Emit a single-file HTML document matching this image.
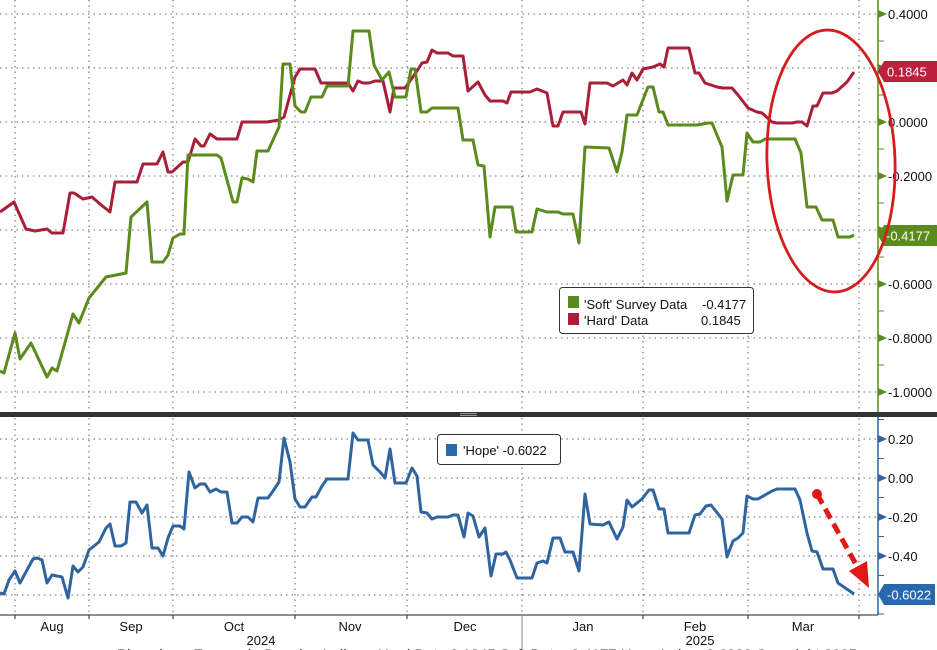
<!DOCTYPE html>
<html>
<head>
<meta charset="utf-8">
<style>
  html,body{margin:0;padding:0;background:#fff;}
  svg{display:block;}
  text{font-family:"Liberation Sans",Arial,sans-serif;}
</style>
</head>
<body>
<svg width="937" height="650" viewBox="0 0 937 650" xmlns="http://www.w3.org/2000/svg">
  <rect x="0" y="0" width="937" height="650" fill="#fff"/>

  <!-- TOP PANEL GRID -->
  <g stroke="#666" stroke-width="1" stroke-dasharray="1.5,4" fill="none">
    <line x1="0" y1="14" x2="878" y2="14"/>
    <line x1="0" y1="68" x2="878" y2="68"/>
    <line x1="0" y1="122" x2="878" y2="122"/>
    <line x1="0" y1="176" x2="878" y2="176"/>
    <line x1="0" y1="230" x2="878" y2="230"/>
    <line x1="0" y1="284" x2="878" y2="284"/>
    <line x1="0" y1="338" x2="878" y2="338"/>
    <line x1="0" y1="392" x2="878" y2="392"/>
    <line x1="15" y1="0" x2="15" y2="412"/>
    <line x1="89" y1="0" x2="89" y2="412"/>
    <line x1="173" y1="0" x2="173" y2="412"/>
    <line x1="295" y1="0" x2="295" y2="412"/>
    <line x1="407" y1="0" x2="407" y2="412"/>
    <line x1="522" y1="0" x2="522" y2="412"/>
    <line x1="643" y1="0" x2="643" y2="412"/>
    <line x1="748" y1="0" x2="748" y2="412"/>
    <line x1="859" y1="0" x2="859" y2="412"/>
  </g>

  <!-- BOTTOM PANEL GRID -->
  <g stroke="#666" stroke-width="1" stroke-dasharray="1.5,4" fill="none">
    <line x1="0" y1="439" x2="878" y2="439"/>
    <line x1="0" y1="478" x2="878" y2="478"/>
    <line x1="0" y1="517" x2="878" y2="517"/>
    <line x1="0" y1="556" x2="878" y2="556"/>
    <line x1="0" y1="595" x2="878" y2="595"/>
    <line x1="15" y1="418" x2="15" y2="615"/>
    <line x1="89" y1="418" x2="89" y2="615"/>
    <line x1="173" y1="418" x2="173" y2="615"/>
    <line x1="295" y1="418" x2="295" y2="615"/>
    <line x1="407" y1="418" x2="407" y2="615"/>
    <line x1="522" y1="418" x2="522" y2="615"/>
    <line x1="643" y1="418" x2="643" y2="615"/>
    <line x1="748" y1="418" x2="748" y2="615"/>
    <line x1="859" y1="418" x2="859" y2="615"/>
  </g>

  <!-- SERIES TOP -->
  <polyline fill="none" stroke="#a91f3a" stroke-width="3" stroke-linejoin="round" points="0,212 14,202 26,229 35,231 47,229 52,233 63,233 70,193 74,193 83,199 92,197 100,204 110,212 115,182 137,182 143,164 157,164 163,152 168,172 172,172 183,162 188,162 195,139 201,146 204,146 210,134 217,139 237,139 242,122 267,122 279,120 284,117 295,77 300,69 315,69 321,83 348,83 353,91 358,81 363,83 369,83 375,81 383,81 390,112 394,88 405,88 417,71 422,63 427,62 432,50 437,53 448,53 453,56 463,56 468,91 478,82 485,95 490,101 503,101 507,103 511,92 530,92 537,89 547,93 553,126 558,126 563,112 581,112 585,124 590,83 607,83 613,86 623,80 627,85 632,73 637,80 643,69 653,67 660,64 664,67 668,48 689,48 695,73 699,73 705,83 717,87 723,88 732,88 738,95 748,108 757,112 762,113 772,122 777,123 792,123 797,122 802,122 807,126 813,106 817,106 823,93 832,93 837,91 847,82 854,72"/>
  <polyline fill="none" stroke="#5b8b1c" stroke-width="3" stroke-linejoin="round" points="0,371 4,373 15,333 20,359 31,343 47,377 52,368 57,371 73,314 79,323 89,298 106,277 126,273 131,217 147,202 152,262 163,262 168,255 173,238 180,234 184,234 188,155 217,155 221,158 233,202 237,202 242,178 248,179 253,182 257,151 268,151 279,127 283,64 290,64 295,106 301,112 305,112 311,97 322,97 327,86 348,86 353,31 369,31 374,65 382,80 389,72 395,97 406,97 411,69 415,69 421,112 427,112 432,108 458,108 463,140 473,140 478,165 484,166 490,237 495,207 512,207 516,232 532,232 537,209 547,212 558,212 563,214 573,214 579,243 585,147 609,148 617,172 622,152 627,115 637,115 648,87 653,87 659,112 663,112 668,125 697,125 708,123 712,123 722,147 727,201 733,175 743,175 747,133 753,142 760,142 765,139 795,139 801,153 807,207 816,207 822,220 833,220 838,237 850,237 854,235"/>

  <!-- SERIES BOTTOM -->
  <polyline fill="none" stroke="#2f649e" stroke-width="3" stroke-linejoin="round" points="0,593 4,594 9,580 15,571 20,583 27,570 33,559 37,558 42,560 47,583 52,575 62,577 68,598 73,566 78,572 83,567 89,550 99,542 106,528 110,524 115,546 121,546 126,543 130,502 136,502 142,513 147,505 152,548 158,548 163,556 168,538 173,526 180,526 184,529 189,472 195,488 200,484 205,484 210,492 216,489 221,492 227,492 232,523 237,523 242,517 248,517 253,522 258,498 268,498 273,491 279,482 284,438 290,462 295,499 300,507 305,507 312,497 316,497 322,486 327,479 348,479 353,433 358,440 368,440 373,465 380,472 385,478 390,449 395,483 406,483 412,468 417,476 421,512 427,513 432,519 437,517 448,517 453,515 458,515 464,537 468,513 473,516 479,537 485,528 491,576 496,554 503,554 506,552 510,560 517,578 532,578 537,563 543,561 547,563 553,538 560,538 565,552 573,552 579,571 585,494 590,524 603,525 609,522 617,539 623,527 627,500 632,507 642,499 649,490 653,490 659,509 664,509 668,533 689,533 695,515 700,514 706,506 711,505 722,519 727,557 733,541 738,538 743,533 747,496 753,499 758,499 772,491 777,489 795,489 800,500 807,533 812,551 817,552 823,569 833,569 838,583 854,594"/>

  <!-- DIVIDER -->
  <rect x="0" y="412" width="937" height="5" fill="#333"/>
  <line x1="460" y1="413.5" x2="477" y2="413.5" stroke="#999" stroke-width="1"/>
  <line x1="460" y1="415.5" x2="477" y2="415.5" stroke="#999" stroke-width="1"/>

  <!-- TOP AXIS -->
  <line x1="878" y1="0" x2="878" y2="412" stroke="#5b8b1c" stroke-width="1.5"/>
  <g fill="#5b8b1c">
    <polygon points="878,10 887,14 878,18"/>
    <polygon points="878,64 887,68 878,72"/>
    <polygon points="878,118 887,122 878,126"/>
    <polygon points="878,172 887,176 878,180"/>
    <polygon points="878,226 887,230 878,234"/>
    <polygon points="878,280 887,284 878,288"/>
    <polygon points="878,334 887,338 878,342"/>
    <polygon points="878,388 887,392 878,396"/>
  </g>
  <g stroke="#5b8b1c" stroke-width="1">
    <line x1="878" y1="41" x2="884" y2="41"/>
    <line x1="878" y1="95" x2="884" y2="95"/>
    <line x1="878" y1="149" x2="884" y2="149"/>
    <line x1="878" y1="203" x2="884" y2="203"/>
    <line x1="878" y1="257" x2="884" y2="257"/>
    <line x1="878" y1="311" x2="884" y2="311"/>
    <line x1="878" y1="365" x2="884" y2="365"/>
  </g>
  <g font-size="13" fill="#111">
    <text x="888" y="19">0.4000</text>
    <text x="888" y="127">0.0000</text>
    <text x="888" y="181">-0.2000</text>
    <text x="888" y="289">-0.6000</text>
    <text x="888" y="343">-0.8000</text>
    <text x="888" y="397">-1.0000</text>
  </g>
  <!-- value tags top -->
  <polygon points="878,71.5 884,61 937,61 937,82 884,82" fill="#bd1f3c"/>
  <text x="887" y="76.5" font-size="13" fill="#fff">0.1845</text>
  <polygon points="878,235.5 884,225 937,225 937,246 884,246" fill="#5b8b1c"/>

  <!-- BOTTOM AXIS -->
  <line x1="878" y1="417" x2="878" y2="615" stroke="#2f649e" stroke-width="1.5"/>
  <g fill="#2f649e">
    <polygon points="878,435 887,439 878,443"/>
    <polygon points="878,474 887,478 878,482"/>
    <polygon points="878,513 887,517 878,521"/>
    <polygon points="878,552 887,556 878,560"/>
  </g>
  <g stroke="#2f649e" stroke-width="1">
    <line x1="878" y1="419.5" x2="884" y2="419.5"/>
    <line x1="878" y1="458.5" x2="884" y2="458.5"/>
    <line x1="878" y1="497.5" x2="884" y2="497.5"/>
    <line x1="878" y1="536.5" x2="884" y2="536.5"/>
    <line x1="878" y1="575.5" x2="884" y2="575.5"/>
    <line x1="878" y1="614" x2="884" y2="614"/>
  </g>
  <g font-size="13" fill="#111">
    <text x="888" y="444">0.20</text>
    <text x="888" y="483">0.00</text>
    <text x="888" y="522">-0.20</text>
    <text x="888" y="561">-0.40</text>
  </g>
  <polygon points="878,594.5 884,584 935,584 935,605 884,605" fill="#2a68ad"/>
  <text x="887" y="599.5" font-size="13" fill="#fff">-0.6022</text>

  <!-- X AXIS -->
  <line x1="0" y1="615" x2="878" y2="615" stroke="#222" stroke-width="1"/>
  <g stroke="#222" stroke-width="1">
    <line x1="15" y1="615" x2="15" y2="619"/>
    <line x1="89" y1="615" x2="89" y2="619"/>
    <line x1="173" y1="615" x2="173" y2="619"/>
    <line x1="295" y1="615" x2="295" y2="619"/>
    <line x1="407" y1="615" x2="407" y2="619"/>
    <line x1="522" y1="615" x2="522" y2="650" stroke="#888"/>
    <line x1="643" y1="615" x2="643" y2="619"/>
    <line x1="748" y1="615" x2="748" y2="619"/>
    <line x1="859" y1="615" x2="859" y2="619"/>
  </g>
  <g font-size="13" fill="#111" text-anchor="middle">
    <text x="52" y="631">Aug</text>
    <text x="131" y="631">Sep</text>
    <text x="234" y="631">Oct</text>
    <text x="350" y="631">Nov</text>
    <text x="465" y="631">Dec</text>
    <text x="583" y="631">Jan</text>
    <text x="695" y="631">Feb</text>
    <text x="803" y="631">Mar</text>
    <text x="261" y="645">2024</text>
    <text x="700" y="645">2025</text>
  </g>
  <text x="117" y="657" font-size="11" fill="#222" textLength="740" lengthAdjust="spacingAndGlyphs">Bloomberg Economic Surprise Indices: Hard Data 0.1845 Soft Data -0.4177 Hope Index -0.6022 Copyright 2025</text>

  <!-- LEGENDS -->
  <rect x="559.5" y="287.5" width="194" height="46" rx="3" fill="#fff" stroke="#333" stroke-width="1"/>
  <rect x="568" y="296" width="11" height="12" fill="#5b8b1c"/>
  <rect x="568" y="313" width="11" height="12" fill="#a91f3a"/>
  <g font-size="13" fill="#111">
    <text x="584" y="309">'Soft' Survey Data</text>
    <text x="702" y="309">-0.4177</text>
    <text x="584" y="325">'Hard' Data</text>
    <text x="701" y="325">0.1845</text>
  </g>
  <rect x="437.5" y="434.5" width="123" height="30" rx="3" fill="#fff" stroke="#333" stroke-width="1"/>
  <rect x="446" y="444" width="11" height="12" fill="#2a68ad"/>
  <text x="463" y="455" font-size="13" fill="#111">'Hope'  -0.6022</text>

  <!-- ANNOTATIONS -->
  <ellipse cx="831" cy="161" rx="64" ry="131" fill="none" stroke="#d41e1e" stroke-width="2.8" transform="rotate(-2 831 161)"/>
  <text x="886" y="240.5" font-size="13" fill="#fff">-0.4177</text>
  <circle cx="817" cy="494" r="5" fill="#e01818"/>
  <line x1="817" y1="494" x2="858" y2="568" stroke="#e01818" stroke-width="5" stroke-dasharray="11,6"/>
  <polygon points="869,588 849,571 867,561" fill="#e01818"/>
</svg>
</body>
</html>
